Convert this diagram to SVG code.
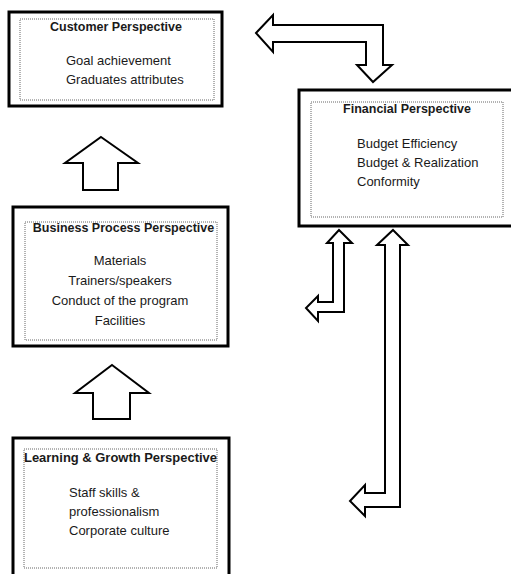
<svg xmlns="http://www.w3.org/2000/svg" width="511" height="574" viewBox="0 0 511 574">
  <style>
    .outer { fill: #ffffff; stroke: #000000; stroke-width: 3; }
    .inner { fill: none; stroke: #666666; stroke-width: 1; stroke-dasharray: 1 1; }
    .arrow { fill: #ffffff; stroke: #000000; stroke-width: 2; stroke-linejoin: miter; }
    text { font-family: "Liberation Sans", Arial, sans-serif; font-size: 13px; fill: #1a1a1a; }
    .title { font-weight: bold; font-size: 12.5px; }
    .c { text-anchor: middle; }
  </style>
  <rect width="511" height="574" fill="#ffffff"/>

  <g id="connectors">
    <polygon class="arrow" points="256,33 273,15 273,25 383,25 383,65 392,65 373,82 357,65 366,65 366,42 273,42 273,52"/>
    <polygon class="arrow" points="101,137 138,163 118,163 118,190 83,190 83,163 65,163"/>
    <polygon class="arrow" points="112,365 149,393 130,393 130,419 93,419 93,393 75,393"/>
    <polygon class="arrow" points="339,230 352,243 344,243 344,312 318,312 318,321 306,308 318,296 318,302 333,302 333,243 327,243"/>
    <polygon class="arrow" points="393,230 408,245 400,245 400,507 365,507 365,516 350,501 365,485 365,493 385,493 385,245 377,245"/>
  </g>

  <g id="customer">
    <rect class="outer" x="9" y="12" width="213" height="94"/>
    <rect class="inner" x="20" y="19" width="194" height="81"/>
    <text class="title c" x="116" y="31">Customer Perspective</text>
    <text x="66" y="65">Goal achievement</text>
    <text x="66" y="84">Graduates attributes</text>
  </g>

  <g id="financial">
    <rect class="outer" x="299" y="90" width="215" height="136"/>
    <rect class="inner" x="311" y="102" width="192" height="115"/>
    <text class="title c" x="407" y="113">Financial Perspective</text>
    <text x="357" y="148">Budget Efficiency</text>
    <text x="357" y="167">Budget &amp; Realization</text>
    <text x="357" y="186">Conformity</text>
  </g>

  <g id="business">
    <rect class="outer" x="13" y="207" width="215" height="139"/>
    <rect class="inner" x="25" y="222" width="192" height="118"/>
    <text class="title c" x="123.5" y="232">Business Process Perspective</text>
    <text class="c" x="120" y="265">Materials</text>
    <text class="c" x="120" y="285">Trainers/speakers</text>
    <text class="c" x="120" y="305">Conduct of the program</text>
    <text class="c" x="120" y="325">Facilities</text>
  </g>

  <g id="learning">
    <rect class="outer" x="13" y="438" width="216" height="140"/>
    <rect class="inner" x="24" y="449" width="193" height="119"/>
    <text class="title" x="24" y="462" textLength="193" lengthAdjust="spacingAndGlyphs">Learning &amp; Growth Perspective</text>
    <text x="69" y="497">Staff skills &amp;</text>
    <text x="69" y="516">professionalism</text>
    <text x="69" y="535">Corporate culture</text>
  </g>
</svg>
